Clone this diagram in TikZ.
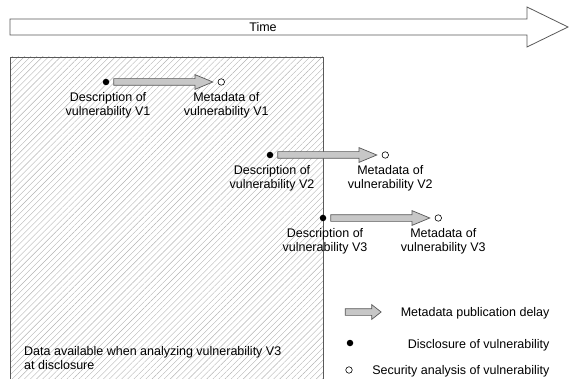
\documentclass[tikz,border=0pt]{standalone}
\usepackage{fontspec}
\setmainfont{Liberation Sans}
\usetikzlibrary{positioning,shapes.arrows,patterns.meta}
\colorlet{trait}{black!65}
\tikzset{
  dot/.style={circle,fill=black,inner sep=0pt,minimum size=6.5pt},
  opendot/.style={circle,draw=black,fill=white,inner sep=0pt,minimum size=6.5pt,line width=0.6pt},
  delay/.style={single arrow,draw=trait,fill=black!22,line width=0.7pt,inner xsep=0pt,inner ysep=3pt,
    minimum width=14pt,single arrow head extend=4pt,single arrow tip angle=45,minimum height=99pt},
  lbl/.style={align=center,inner sep=2pt}
}
\begin{document}
\begin{tikzpicture}[x=1pt,y=-1pt,font=\fontsize{12.5}{14}\selectfont]
\useasboundingbox (0,0) rectangle (569,379);
% axe du temps
\draw[trait,line width=0.8pt,fill=white] (10,19) -- (527,19) -- (527,7) -- (568,27) -- (527,47) -- (527,35) -- (10,35) -- cycle;
\node (time) at (263,27) {Time};
% zone hachuree
\fill[pattern={Lines[angle=45,distance=4.3pt,line width=0.4pt]},pattern color=black!30] (10,57) rectangle (323,379);
\draw[trait,line width=0.8pt] (10,379) -- (10,57) -- (323,57) -- (323,379);
\node[anchor=north west,align=left,inner sep=2pt] (data) at (22,344) {Data available when analyzing vulnerability V3\\at disclosure};
\foreach \i/\x/\y in {1/106/82,2/270/155,3/323/218}{
  \node[dot] (d\i) at (\x,\y) {};
  \node[delay,right=4pt of d\i] (a\i) {};
  \node[opendot,right=4pt of a\i] (m\i) {};
  \node[lbl,below=5pt of d\i,xshift=2pt] (desc\i) {Description of\\vulnerability V\i};
  \node[lbl,below=5pt of m\i,xshift=5pt] (meta\i) {Metadata of\\vulnerability V\i};
}
% legende
\node[delay,minimum height=36pt,single arrow tip angle=76] (ldelay) at (361,312) {};
\node[anchor=east] (tdelay) at (553,313) {Metadata publication delay};
\node[dot] (ldisc) at (350,343) {};
\node[anchor=east] (tdisc) at (553,345) {Disclosure of vulnerability};
\node[opendot] (lsec) at (349,370) {};
\node[anchor=east] (tsec) at (553,371) {Security analysis of vulnerability};
\end{tikzpicture}
\end{document}
